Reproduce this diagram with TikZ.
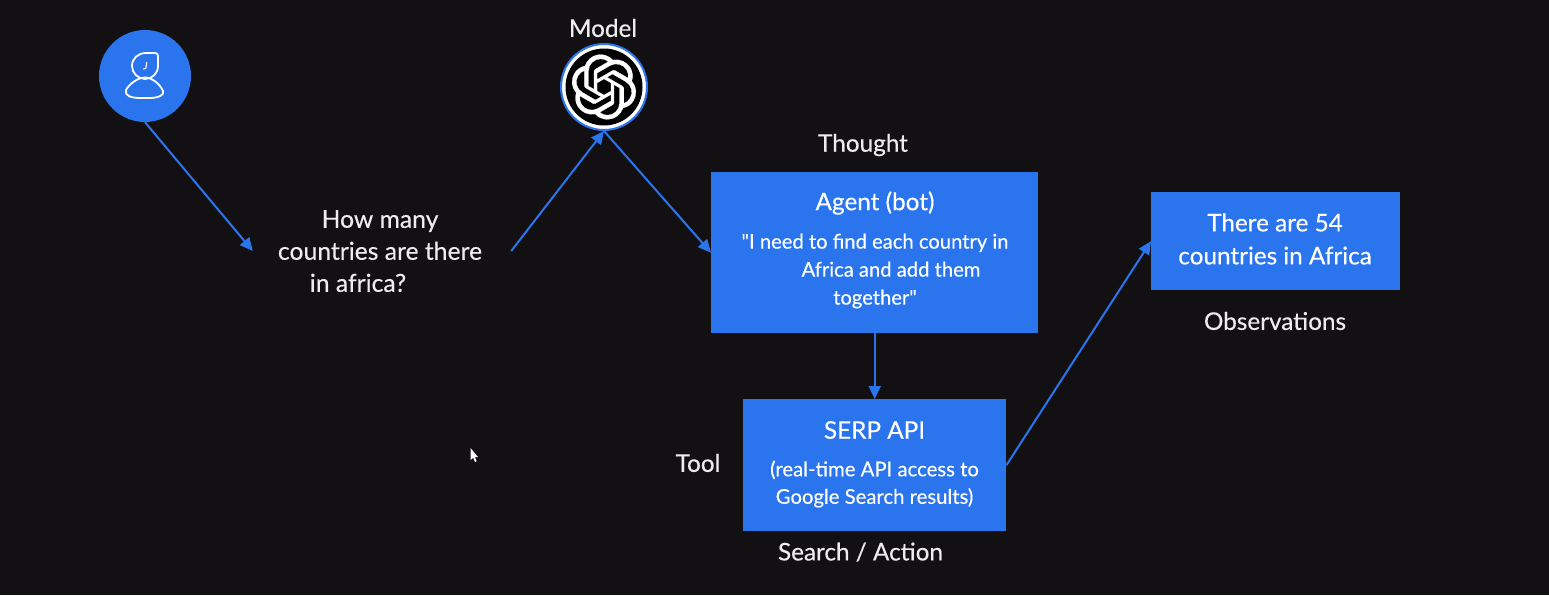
\documentclass[tikz,border=0pt]{standalone}
\usepackage{fontspec}
\usetikzlibrary{arrows.meta,svg.path}
\newfontfamily\lato{Lato}[FakeBold=0.3]
\definecolor{bgc}{HTML}{121013}
\definecolor{bluec}{HTML}{2A75EE}
\definecolor{txt}{HTML}{EDEDED}
\tikzset{
 x=1pt,y=-1pt,
 conn/.style={draw=bluec,line width=2pt,-{Triangle[length=13pt,width=12pt]}},
 bluebox/.style={fill=bluec,inner sep=0pt,anchor=north west},
 lbl/.style={text=txt,font=\lato\fontsize{24.3}{30}\selectfont,inner sep=0pt},
 boxhead/.style={text=white,font=\lato\fontsize{24.3}{30}\selectfont,inner sep=0pt},
 icon/.style={draw=white,line width=1.8pt,line join=round}
}
\begin{document}
\begin{tikzpicture}
\useasboundingbox (0,0) rectangle (1549,595);
\fill[bgc] (0,0) rectangle (1549,595);
% user
\node[circle,fill=bluec,minimum size=92pt,inner sep=0pt] (user) at (145,76) {};
\begin{scope}[icon]
\draw (146,53) -- (155,53) .. controls (157,53) and (158,54) .. (158,56) -- (158,66) .. controls (158,73.5) and (152,79) .. (145,79) .. controls (138,79) and (132,73) .. (132,66) .. controls (132,58.5) and (138,53) .. (146,53) -- cycle;
\draw (145,77.5) .. controls (152,77.5) and (160,84) .. (163,91) .. controls (165,95) and (158,98) .. (150,98) -- (140,98) .. controls (132,98) and (124,96) .. (126,90) .. controls (129,84) and (138,77.5) .. (145,77.5) -- cycle;
\draw[line width=1.1pt] (146.7,62) -- (146,68) -- (143.3,69.3);
\end{scope}
% question
\node[text=txt,font=\lato\fontsize{24.7}{32}\selectfont,align=center,minimum width=258pt,inner sep=0pt] (q) at (382,251)
 {\hspace*{-4pt}How many\\\hspace*{-4pt}countries are there\\\hspace*{-48pt}in africa?};
% model
\node[circle,draw=bluec,line width=2pt,fill=white,minimum size=86pt,inner sep=0pt] (model) at (604,87) {};
\fill[black!90!bgc] (604,87) circle (38.5pt);
\fill[white,draw=white,line width=0.15pt,even odd rule,cm={2.7,0,0,-2.7,(571.6,54.6)}] svg {M 22.2819 9.8211 a 5.9847 5.9847 0 0 0 -0.5157 -4.9108 a 6.0462 6.0462 0 0 0 -6.5098 -2.9 A 6.0651 6.0651 0 0 0 4.9807 4.1818 a 5.9847 5.9847 0 0 0 -3.9977 2.9 a 6.0462 6.0462 0 0 0 0.7427 7.0966 a 5.98 5.98 0 0 0 0.511 4.9107 a 6.051 6.051 0 0 0 6.5146 2.9001 A 5.9847 5.9847 0 0 0 13.2599 24 a 6.0557 6.0557 0 0 0 5.7718 -4.2058 a 5.9894 5.9894 0 0 0 3.9977 -2.9001 a 6.0557 6.0557 0 0 0 -0.7475 -7.0729 z
M 13.2599 22.4292 a 4.4755 4.4755 0 0 1 -2.8764 -1.0408 l 0.1419 -0.0804 l 4.7783 -2.7582 a 0.7948 0.7948 0 0 0 0.3927 -0.6813 v -6.7369 l 2.02 1.1686 a 0.071 0.071 0 0 1 0.038 0.052 v 5.5826 a 4.504 4.504 0 0 1 -4.4945 4.4944 z
M 3.5992 18.3038 a 4.4708 4.4708 0 0 1 -0.5346 -3.0137 l 0.142 0.0852 l 4.783 2.7582 a 0.7712 0.7712 0 0 0 0.7806 0 l 5.8428 -3.3685 v 2.3324 a 0.0804 0.0804 0 0 1 -0.0332 0.0615 L 9.74 19.9502 a 4.4992 4.4992 0 0 1 -6.1408 -1.6464 z
M 2.3408 7.8956 a 4.485 4.485 0 0 1 2.3655 -1.9728 V 11.6 a 0.7664 0.7664 0 0 0 0.3879 0.6765 l 5.8144 3.3543 l -2.0201 1.1685 a 0.0757 0.0757 0 0 1 -0.071 0 l -4.8303 -2.7865 A 4.504 4.504 0 0 1 2.3408 7.872 z
M 18.9371 11.7514 L 13.1038 8.364 L 15.1192 7.2 a 0.0757 0.0757 0 0 1 0.071 0 l 4.8303 2.7913 a 4.4944 4.4944 0 0 1 -0.6765 8.1042 v -5.6772 a 0.79 0.79 0 0 0 -0.407 -0.667 z
M 20.9478 8.7283 l -0.142 -0.0852 l -4.7735 -2.7818 a 0.7759 0.7759 0 0 0 -0.7854 0 L 9.409 9.2297 V 6.8974 a 0.0662 0.0662 0 0 1 0.0284 -0.0615 l 4.8303 -2.7866 a 4.4992 4.4992 0 0 1 6.6802 4.66 z
M 8.3065 12.863 l -2.02 -1.1638 a 0.0804 0.0804 0 0 1 -0.038 -0.0567 V 6.0742 a 4.4992 4.4992 0 0 1 7.3757 -3.4537 l -0.142 0.0805 L 8.704 5.459 a 0.7948 0.7948 0 0 0 -0.3927 0.6813 z
M 9.4041 10.4976 l 2.602 -1.4998 l 2.6069 1.4998 v 2.9994 l -2.5974 1.4997 l -2.6099 -1.4997 z};
\node[lbl] (mlabel) at (603,28) {Model};
% agent
\node[bluebox,minimum width=327pt,minimum height=161pt] (agent) at (711,172) {};
\node[boxhead] (agentT) at (875,203) {Agent (bot)};
\node[text=white,font=\lato\fontsize{20.2}{28}\selectfont,align=center,inner sep=0pt] (agentB) at (875,271)
 {"I need to find each country in\\\hspace*{32pt}Africa and add them\\together"};
\node[lbl] (thought) at (863,145) {Thought};
% serp
\node[bluebox,minimum width=263pt,minimum height=132pt] (serp) at (743,399) {};
\node[boxhead] (serpT) at (874.5,430) {SERP API};
\node[text=white,font=\lato\fontsize{20.3}{27.5}\selectfont,align=center,inner sep=0pt] (serpB) at (874.5,484)
 {(real-time API access to\\Google Search results)};
\node[lbl] (tool) at (698,463) {Tool};
\node[lbl] (search) at (860.5,552) {Search / Action};
% observations
\node[bluebox,minimum width=249pt,minimum height=98pt] (obs) at (1151,192) {};
\node[text=white,font=\lato\fontsize{24.3}{33}\selectfont,align=center,inner sep=0pt] (obsT) at (1275,239) {There are 54\\countries in Africa};
\node[lbl] (obsL) at (1275,321) {Observations};
% connectors
\draw[conn] (user.south) -- (q.west);
\draw[conn] (q.east) -- (model.south);
\draw[conn] (model.south) -- (agent.west);
\draw[conn] (agent.south) -- (serp.north);
\draw[conn] (serp.east) -- (obs.west);
% cursor
\fill[white] (470.5,448) -- (470.5,460) -- (473.2,457.8) -- (475,462) -- (476.6,461.2) -- (475,457.2) -- (478,457) -- cycle;
\end{tikzpicture}
\end{document}
